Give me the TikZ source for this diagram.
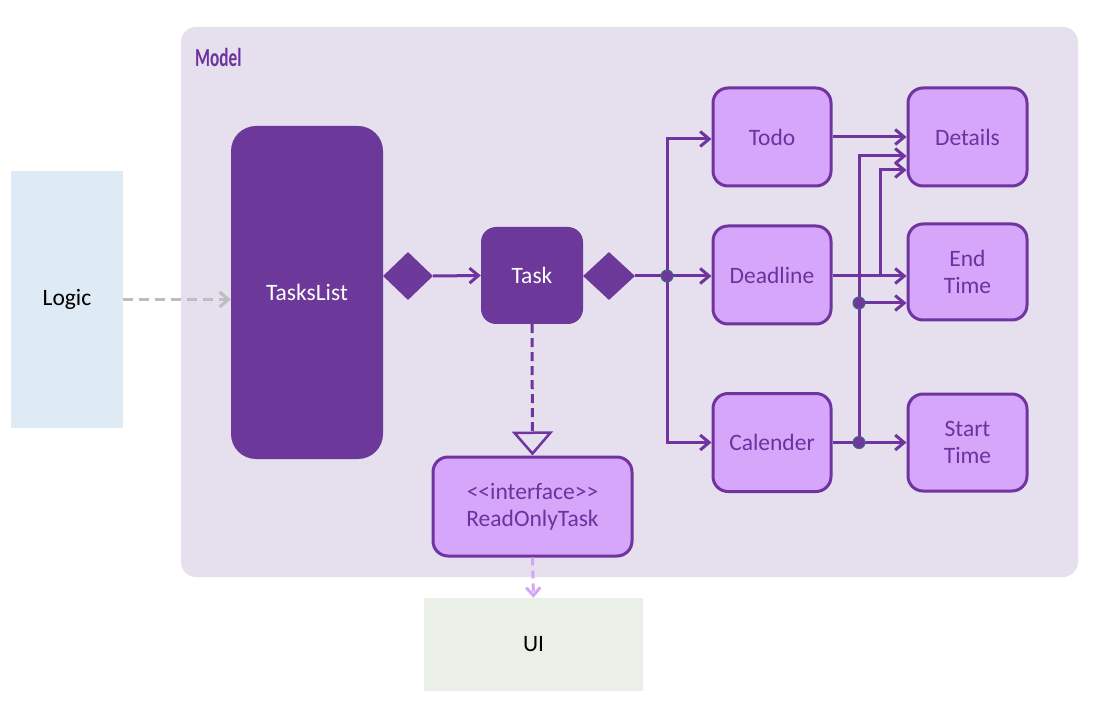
\documentclass[tikz,border=0pt]{standalone}
\usepackage{fontspec}
\setmainfont{Carlito}
\usetikzlibrary{arrows.meta,shapes.geometric,calc}
\definecolor{modelbg}{RGB}{230,224,238}
\definecolor{dpurple}{RGB}{108,56,154}
\definecolor{lpurple}{RGB}{214,166,250}
\definecolor{bordp}{RGB}{112,52,160}
\definecolor{logicbg}{RGB}{222,234,244}
\definecolor{uibg}{RGB}{234,239,232}
\definecolor{txtp}{RGB}{108,50,158}
\definecolor{dotrim}{RGB}{70,100,130}
\definecolor{greyarr}{RGB}{190,190,190}
\definecolor{lilac}{RGB}{214,166,246}
\begin{document}
\begin{tikzpicture}[x=1pt,y=-1pt,
  font=\fontsize{23.5}{27}\selectfont,
  lbox/.style={draw=bordp, line width=3pt, fill=lpurple, rounded corners=15pt,
     text=txtp, align=center, inner sep=0pt, minimum width=118pt, minimum height=98pt},
  dbox/.style={fill=dpurple, rounded corners=#1, text=white, inner sep=0pt},
  dbox/.default=15pt,
  dia/.style={diamond, fill=dpurple, inner sep=0pt, minimum width=50pt, minimum height=48pt},
  conn/.style={draw=bordp, line width=3pt},
  arr/.style={conn, -{Straight Barb[length=9pt,width=15pt,line width=3pt]}},
  jdot/.style={circle, fill=dpurple, draw=dotrim, line width=1pt, minimum size=12pt, inner sep=0pt},
  plain/.style={inner sep=0pt, text=black}]
\useasboundingbox (0,0) rectangle (1095,727);
\fill[white] (0,0) rectangle (1095,727);
% model frame
\fill[modelbg, rounded corners=15pt] (181,27) rectangle (1078,577);
\node[anchor=west, text=txtp, inner sep=0pt] (model) at (195,57)
  {\scalebox{0.66}[1]{\fontsize{26}{30}\selectfont\bfseries Model}};
% outside boxes
\node[plain, fill=logicbg, minimum width=112pt, minimum height=257pt] (logic) at (67,299.5) {Logic};
\node[plain, fill=uibg, minimum width=219pt, minimum height=93pt] (ui) at (533.5,644.5) {UI};
% dark boxes
\node[dbox=25pt, minimum width=152pt, minimum height=333pt] (tasks) at (307,292.5) {TasksList};
\node[dbox, minimum width=102pt, minimum height=97pt] (task) at (532,275.5) {Task};
\node[dia] (d1) at (408,276) {};
\node[dia, minimum width=52pt] (d2) at (609,276) {};
% light boxes
\node[lbox] (todo) at (772,137) {Todo};
\node[lbox] (deadline) at (772,275) {Deadline};
\node[lbox] (calender) at (772,442.5) {Calender};
\node[lbox, minimum width=119pt] (details) at (967.5,137) {Details};
\node[lbox, minimum width=119pt, minimum height=96pt] (endtime) at (967.5,272) {End\\Time};
\node[lbox, minimum width=119pt, minimum height=97pt] (starttime) at (967.5,442.5) {Start\\Time};
\node[lbox, minimum width=199pt, minimum height=99pt] (ro) at (532.5,506.5) {{<}{<}interface{>}{>}\\ReadOnlyTask};
% junction coordinates
\coordinate (j) at (667,276);
\coordinate (k1) at (880,276);
\coordinate (k2) at (859,442.5);
\coordinate (k3) at (859,303);
% connectors
\draw[arr] (d1.east) -- (task.west);
\draw[conn] (d2.east) -- (j);
\draw[arr] (j) |- ($(todo.west)+(0,2)$);
\draw[arr] (j) -- (j -| deadline.west);
\draw[arr] (j) |- (calender.west);
\draw[arr] (todo.east) -- (details.west);
\draw[arr] (deadline.east |- j) -- (j -| endtime.west);
\draw[arr] (k1) |- ($(details.west)+(0,33)$);
\draw[arr] (calender.east) -- (starttime.west);
\draw[arr] (k2) |- ($(details.west)+(0,19)$);
\draw[arr] (k3) -- (k3 -| endtime.west);
\node[jdot] at (j) {};
\node[jdot] at (k2) {};
\node[jdot] at (k3) {};
% realization
\draw[draw=bordp, line width=3pt, dash pattern=on 9pt off 5pt,
  -{Triangle[open, length=24pt, width=41pt, line width=2.5pt, fill=modelbg]}] (task.south) -- (ro.north);
% dependencies
\draw[draw=lilac, line width=3pt, dash pattern=on 8pt off 5pt,
  -{Straight Barb[length=8pt,width=14pt,line width=3pt]}] (ro.south) -- (ui.north);
\draw[draw=greyarr, line width=3pt, dash pattern=on 10pt off 6pt,
  -{Straight Barb[length=9pt,width=15pt,line width=3pt]}] (logic.east) -- (logic.east -| tasks.west);
\end{tikzpicture}
\end{document}
